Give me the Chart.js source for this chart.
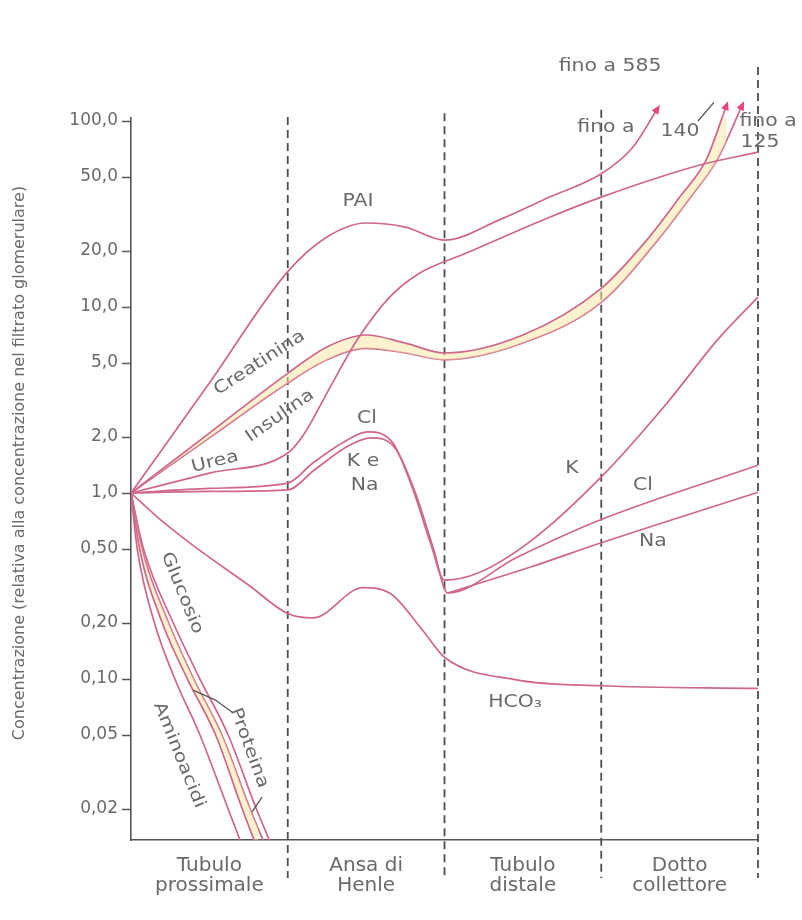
<!DOCTYPE html>
<html lang="it">
<head>
<meta charset="utf-8">
<title>Concentrazione lungo il nefrone</title>
<script src="https://cdn.jsdelivr.net/npm/chart.js@4.4.0/dist/chart.umd.min.js"></script>
<style>
  html, body { margin: 0; padding: 0; background: #fff; }
</style>
</head>
<body>
<canvas id="chart" width="802" height="920"></canvas>
<script>
// x: 0..4 = the four segments of the nephron, y: concentration relative to the filtrate
const segmentLabels = [["Tubulo", "prossimale"], ["Ansa di", "Henle"], ["Tubulo", "distale"], ["Dotto", "collettore"]];
const segmentCenters = [0.5, 1.5, 2.5, 3.5];
const boundaries = [1, 2, 3, 4];
const boundaryTops = [105, 110, 115, 195];

const yTickValues = [100, 50, 20, 10, 5, 2, 1, 0.5, 0.2, 0.1, 0.05, 0.02];
const yTickLabels = ["100,0", "50,0", "20,0", "10,0", "5,0", "2,0", "1,0", "0,50", "0,20", "0,10", "0,05", "0,02"];
const yTitle = "Concentrazione (relativa alla concentrazione nel filtrato glomerulare)";

const paiX = [0, 0.5, 1, 1.25, 1.5, 1.75, 2, 2.35, 2.67, 3, 3.2, 3.36];
const paiY = [1, 3.9, 15.5, 23.8, 28.3, 26.9, 22.9, 29.4, 39, 52, 72, 117];

const ureaX = [0, 0.5, 1, 1.1, 1.27, 1.44, 1.65, 1.84, 2.14, 2.67, 3, 3.63, 4];
const ureaY = [1, 1.28, 1.64, 2.05, 3.7, 6.6, 11.3, 15.2, 19.5, 30.4, 39, 58, 68];

const creatX = [0, 0.5, 1, 1.25, 1.5, 1.75, 2, 2.5, 3, 3.29, 3.5, 3.67, 3.8];
const creatY = [1, 2.1, 4.4, 6.1, 7.07, 6.4, 5.66, 7.07, 12.6, 22.9, 39, 62, 122];

const insulX = [0, 0.5, 1, 1.25, 1.5, 1.75, 2, 2.5, 3, 3.36, 3.57, 3.74, 3.9];
const insulY = [1, 1.98, 3.9, 5.2, 6.0, 5.66, 5.2, 6.4, 10.6, 22.9, 39, 62, 122];

const kX = [0, 0.5, 1, 1.16, 1.38, 1.51, 1.67, 1.8, 1.91, 2, 2.21, 2.56, 3, 3.42, 3.74, 4];
const kY = [1, 1.06, 1.13, 1.45, 1.93, 2.13, 1.86, 1.04, 0.54, 0.34, 0.37, 0.56, 1.22, 3.05, 6.64, 11.3];

const clX = [0, 0.5, 1, 1.17, 1.39, 1.53, 1.69, 1.82, 1.93, 2.02, 2.46, 3, 4];
const clY = [1, 1.02, 1.04, 1.33, 1.8, 1.98, 1.72, 0.97, 0.5, 0.29, 0.45, 0.72, 1.41];

const naX = [2.02, 2.55, 3, 4];
const naY = [0.29, 0.40, 0.54, 1.01];

const hco3X = [0, 0.17, 0.4, 0.75, 1, 1.16, 1.48, 1.65, 1.86, 2, 2.46, 3, 4];
const hco3Y = [1, 0.74, 0.52, 0.32, 0.225, 0.213, 0.31, 0.29, 0.183, 0.131, 0.099, 0.092, 0.089];

const fallY = [1, 0.5, 0.2, 0.1, 0.05, 0.02, 0.012];
const aminoX = [0, 0.04, 0.15, 0.28, 0.44, 0.62, 0.72];
const glucAX = [0, 0.055, 0.2, 0.36, 0.54, 0.71, 0.81];
const glucBX = [0, 0.07, 0.24, 0.4, 0.58, 0.76, 0.87];
const protX = [0, 0.08, 0.27, 0.44, 0.62, 0.8, 0.91];

const notes = [
  { t: "PAI", x: 1.448, y: 37.1, r: 0 },
  { t: "Creatinina", x: 0.82, y: 5.0, r: -33 },
  { t: "Insulina", x: 0.95, y: 2.6, r: -35 },
  { t: "Urea", x: 0.536, y: 1.47, r: -14 },
  { t: "Cl", x: 1.506, y: 2.5, r: 0 },
  { t: "K e", x: 1.48, y: 1.47, r: 0 },
  { t: "Na", x: 1.49, y: 1.1, r: 0 },
  { t: "K", x: 2.813, y: 1.36, r: 0 },
  { t: "Cl", x: 3.266, y: 1.1, r: 0 },
  { t: "Na", x: 3.33, y: 0.545, r: 0 },
  { t: "HCO₃", x: 2.45, y: 0.0743, r: 0 },
  { t: "Glucosio", x: 0.325, y: 0.29, r: 68 },
  { t: "Aminoacidi", x: 0.306, y: 0.039, r: 68 },
  { t: "Proteina", x: 0.753, y: 0.0426, r: 70 },
  { t: "fino a 585", x: 3.056, y: 195, r: 0 },
  { t: "fino a", x: 3.03, y: 91.7, r: 0 },
  { t: "140", x: 3.502, y: 87.3, r: 0 },
  { t: "fino a", x: 4.064, y: 98.8, r: 0 },
  { t: "125", x: 4.013, y: 76.2, r: 0 },
];

const leaders = [
  [[0.396, 0.0872], [0.536, 0.0773], [0.644, 0.0664]],
  [[0.836, 0.0232], [0.772, 0.0193]],
  [[3.617, 100], [3.719, 126]],
];

const FONT = '"DejaVu Sans", "Liberation Sans", sans-serif';
const INK = "#6a6a6a";
const LINE = "#d0668a";
const BAND = "rgba(250, 232, 170, 0.55)";

const xy = (xs, ys) => xs.map((x, i) => ({ x, y: ys[i] }));

function curve(label, xs, ys, extra) {
  return Object.assign({
    label,
    data: xy(xs, ys),
    borderColor: LINE,
    borderWidth: 1.7,
    pointRadius: 0,
    fill: false,
    cubicInterpolationMode: "monotone",
    clip: { left: 0, top: false, right: 2, bottom: 0 },
  }, extra || {});
}

const decor = {
  id: "decor",
  beforeDatasetsDraw(chart) {
    const { ctx, chartArea, scales: { x, y } } = chart;
    ctx.save();
    ctx.strokeStyle = "#4d4d4d";
    ctx.lineWidth = 1.8;
    ctx.setLineDash([8, 5]);
    boundaries.forEach((b, i) => {
      const px = x.getPixelForValue(b);
      ctx.beginPath();
      ctx.moveTo(px, y.getPixelForValue(boundaryTops[i]));
      ctx.lineTo(px, chartArea.bottom + 38);
      ctx.stroke();
    });
    ctx.restore();
  },
  afterDatasetsDraw(chart) {
    const { ctx, scales: { x, y } } = chart;
    ctx.save();

    // arrow heads on the curves that leave the top of the scale
    ctx.fillStyle = "#e8457f";
    chart.data.datasets.forEach((ds, i) => {
      if (!ds.arrow) return;
      const pts = chart.getDatasetMeta(i).data;
      const p = pts[pts.length - 1], q = pts[pts.length - 2];
      const a = Math.atan2(p.y - q.y, p.x - q.x);
      ctx.save();
      ctx.translate(p.x, p.y);
      ctx.rotate(a);
      ctx.beginPath();
      ctx.moveTo(4, 0);
      ctx.lineTo(-5, -4);
      ctx.lineTo(-5, 4);
      ctx.closePath();
      ctx.fill();
      ctx.restore();
    });

    ctx.strokeStyle = "#555";
    ctx.lineWidth = 1.3;
    leaders.forEach(pts => {
      ctx.beginPath();
      pts.forEach(([a, b], i) => {
        const px = x.getPixelForValue(a), py = y.getPixelForValue(b);
        if (i) ctx.lineTo(px, py); else ctx.moveTo(px, py);
      });
      ctx.stroke();
    });

    ctx.fillStyle = INK;
    ctx.textAlign = "center";
    ctx.textBaseline = "middle";
    ctx.font = "17px " + FONT;
    notes.forEach(n => {
      ctx.save();
      ctx.translate(x.getPixelForValue(n.x), y.getPixelForValue(n.y));
      ctx.rotate(n.r * Math.PI / 180);
      ctx.scale(1.2, 1);
      ctx.fillText(n.t, 0, 0);
      ctx.restore();
    });

    // axis title, placed by hand to sit where the original has it
    ctx.save();
    ctx.translate(20, 463);
    ctx.rotate(-Math.PI / 2);
    ctx.font = "16px " + FONT;
    ctx.fillText(yTitle, 0, 0);
    ctx.restore();
    ctx.restore();
  },
};

new Chart(document.getElementById("chart"), {
  type: "line",
  data: {
    datasets: [
      curve("PAI", paiX, paiY, { arrow: true }),
      curve("Urea", ureaX, ureaY),
      curve("Creatinina", creatX, creatY, { fill: "+1", backgroundColor: BAND, arrow: true }),
      curve("Insulina", insulX, insulY, { arrow: true }),
      curve("K", kX, kY),
      curve("Cl", clX, clY),
      curve("Na", naX, naY),
      curve("HCO3", hco3X, hco3Y),
      curve("Aminoacidi", aminoX, fallY),
      curve("Glucosio", glucAX, fallY, { fill: "+1", backgroundColor: BAND }),
      curve("Glucosio (2)", glucBX, fallY),
      curve("Proteina", protX, fallY),
    ],
  },
  options: {
    responsive: false,
    animation: false,
    events: [],
    layout: { padding: { left: 0, top: 118, right: 44, bottom: 0 } },
    plugins: {
      legend: { display: false },
      tooltip: { enabled: false },
    },
    scales: {
      x: {
        type: "linear",
        min: 0,
        max: 4,
        afterBuildTicks: s => { s.ticks = segmentCenters.map(value => ({ value })); },
        afterFit: s => { s.height = 80; },
        grid: { display: false },
        border: { color: "#555", width: 1.6 },
        ticks: {
          autoSkip: false,
          maxRotation: 0,
          padding: 8,
          color: INK,
          font: { family: FONT, size: 20, lineHeight: 1.0 },
          callback: v => segmentLabels[segmentCenters.indexOf(v)],
        },
      },
      y: {
        type: "logarithmic",
        min: 0.01363,
        max: 103.8,
        afterBuildTicks: s => { s.ticks = yTickValues.map(value => ({ value })); },
        afterFit: s => { s.width = 131; },
        grid: { drawOnChartArea: false, drawTicks: true, tickLength: 9, tickColor: "#555", tickWidth: 1.5 },
        border: { color: "#555", width: 1.6 },
        ticks: {
          autoSkip: false,
          padding: 4,
          color: INK,
          font: { family: FONT, size: 17 },
          callback: v => yTickLabels[yTickValues.indexOf(v)],
        },
      },
    },
  },
  plugins: [decor],
});
</script>
</body>
</html>
